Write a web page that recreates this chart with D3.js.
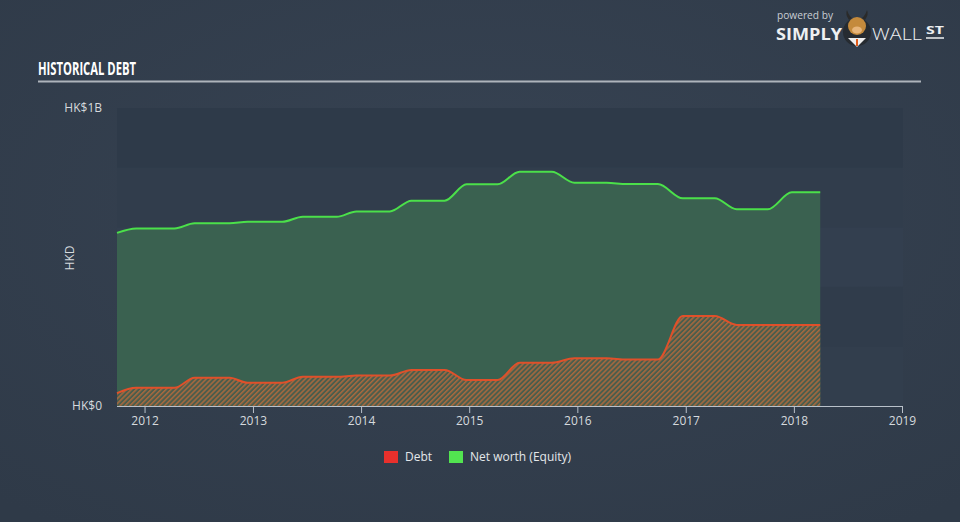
<!DOCTYPE html>
<html>
<head>
<meta charset="utf-8">
<script src="https://cdn.jsdelivr.net/npm/d3@7"></script>
<style>
  html, body { margin: 0; padding: 0; background: #333f4e; }
  svg { display: block; }
  text { font-family: "Open Sans", "DejaVu Sans", sans-serif; }
</style>
</head>
<body>
<svg id="chart" width="960" height="522"></svg>
<script>
// ---- data (HK$ millions) ----
const dates = [
  "2011-09-30","2011-12-04","2012-04-11","2012-06-18","2012-10-14","2012-12-14",
  "2013-04-10","2013-06-18","2013-10-11","2013-12-16","2014-04-08","2014-06-20",
  "2014-10-10","2014-12-23","2015-04-07","2015-06-20","2015-10-07","2015-12-22",
  "2016-04-09","2016-06-16","2016-09-29","2016-12-22","2017-04-09","2017-06-22",
  "2017-10-05","2017-12-25","2018-03-31"
];
const equity = [
  581, 596, 596, 613, 613, 618,
  618, 635, 635, 653, 653, 689,
  689, 744, 744, 786, 786, 749,
  749, 745, 745, 697, 697, 660,
  660, 717, 717
];
const debt = [
  43, 61, 61, 95, 95, 78,
  78, 98, 98, 102, 102, 121,
  121, 87, 87, 145, 145, 160,
  160, 156, 156, 302, 302, 272,
  272, 272, 272
];
const yTickValues = [0, 1000];
const yTickLabels = ["HK$0", "HK$1B"];
const xTickYears = [2012, 2013, 2014, 2015, 2016, 2017, 2018, 2019];
const legendItems = [
  { name: "Debt", color: "#e8302c" },
  { name: "Net worth (Equity)", color: "#52e450" }
];

const W = 960, H = 522;
const svg = d3.select("#chart");
const parse = d3.timeParse("%Y-%m-%d");
const series = dates.map((d, i) => ({ date: parse(d), equity: equity[i], debt: debt[i] }));

// ---- background ----
const defs = svg.append("defs");
const bg = defs.append("radialGradient").attr("id", "bg").attr("cx", "50%").attr("cy", "40%").attr("r", "75%");
bg.append("stop").attr("offset", "0%").attr("stop-color", "#374353");
bg.append("stop").attr("offset", "100%").attr("stop-color", "#2f3a48");
svg.append("rect").attr("width", W).attr("height", H).attr("fill", "url(#bg)");

const hatch = defs.append("pattern").attr("id", "hatch").attr("patternUnits", "userSpaceOnUse")
  .attr("width", 3.5).attr("height", 3.5).attr("patternTransform", "rotate(45)");
hatch.append("rect").attr("width", 3.5).attr("height", 3.5).attr("fill", "#4b5d4c");
hatch.append("rect").attr("width", 1.5).attr("height", 3.5).attr("fill", "#a8693f");

// ---- scales ----
const x = d3.scaleTime()
  .domain([parse("2011-09-30"), new Date(2019, 0, 1)])
  .range([117, 902]);
const y = d3.scaleLinear().domain([0, 1000]).range([406, 108]);

// ---- plot bands ----
const bandEdges = d3.range(0, 1001, 200);
const bandColors = ["#323e4d", "#303c4b", "#333f4f", "#313d4c", "#2e3a49"];
svg.append("g").selectAll("rect").data(bandEdges.slice(0, -1)).join("rect")
  .attr("x", 117).attr("width", 903 - 117)
  .attr("y", d => y(d + 200)).attr("height", d => y(d) - y(d + 200))
  .attr("fill", (d, i) => bandColors[i]);

// ---- areas & lines ----
const curve = d3.curveMonotoneX;
svg.append("path").datum(series)
  .attr("fill", "#3a6150")
  .attr("d", d3.area().curve(curve).x(d => x(d.date)).y0(y(0)).y1(d => y(d.equity)));
svg.append("path").datum(series)
  .attr("fill", "url(#hatch)")
  .attr("d", d3.area().curve(curve).x(d => x(d.date)).y0(y(0)).y1(d => y(d.debt)));
svg.append("path").datum(series)
  .attr("fill", "none").attr("stroke", "#4be04a").attr("stroke-width", 2)
  .attr("d", d3.line().curve(curve).x(d => x(d.date)).y(d => y(d.equity)));
svg.append("path").datum(series)
  .attr("fill", "none").attr("stroke", "#e0502a").attr("stroke-width", 2)
  .attr("d", d3.line().curve(curve).x(d => x(d.date)).y(d => y(d.debt)));

// ---- x axis ----
const xAxis = d3.axisBottom(x)
  .tickValues(xTickYears.map(yr => new Date(yr, 0, 1)))
  .tickFormat(d3.timeFormat("%Y"))
  .tickSize(7).tickPadding(3).tickSizeOuter(0);
const gx = svg.append("g").attr("transform", "translate(0,406)").call(xAxis);
gx.select(".domain").attr("stroke", "#b9c1ca").attr("stroke-width", 1.2).attr("d", "M117,0.5H903");
gx.selectAll(".tick line").attr("stroke", "#b9c1ca");
gx.selectAll(".tick text").attr("fill", "#d6dade").attr("font-size", 12)
  .attr("font-family", "'Open Sans', sans-serif");

// ---- y labels ----
svg.append("g").selectAll("text").data(yTickValues).join("text")
  .attr("x", 102).attr("y", d => y(d)).attr("dy", "0.35em")
  .attr("text-anchor", "end").attr("fill", "#d6dade").attr("font-size", 12)
  .text((d, i) => yTickLabels[i]);
svg.append("text").attr("transform", "translate(74,258) rotate(-90)")
  .attr("text-anchor", "middle").attr("fill", "#d6dade").attr("font-size", 12).text("HKD");

// ---- title ----
svg.append("text").attr("x", 38).attr("y", 75)
  .attr("fill", "#ffffff").attr("font-size", 18).attr("font-weight", "bold")
  .attr("font-family", "'Liberation Sans Narrow', 'Roboto', sans-serif")
  .attr("textLength", 98).attr("lengthAdjust", "spacingAndGlyphs")
  .text("HISTORICAL DEBT");
svg.append("line").attr("x1", 38).attr("x2", 921).attr("y1", 81.5).attr("y2", 81.5)
  .attr("stroke", "#aeb4bb").attr("stroke-width", 2);

// ---- legend ----
const lg = svg.append("g").attr("transform", "translate(384,451)");
const offsets = [0, 65];
legendItems.forEach((it, i) => {
  const g = lg.append("g").attr("transform", `translate(${offsets[i]},0)`);
  g.append("rect").attr("width", 14).attr("height", 12).attr("fill", it.color);
  g.append("text").attr("x", 21).attr("y", 6).attr("dy", "0.35em")
    .attr("fill", "#e4e7ea").attr("font-size", 12).text(it.name);
});

// ---- logo ----
const logo = svg.append("g");
logo.append("text").attr("x", 777).attr("y", 19).attr("fill", "#c9ced4").attr("font-size", 10)
  .attr("textLength", 56).attr("lengthAdjust", "spacingAndGlyphs").text("powered by");
logo.append("text").attr("x", 776).attr("y", 40).attr("fill", "#eef0f2").attr("font-size", 15.5)
  .attr("font-weight", "bold").attr("textLength", 66).attr("lengthAdjust", "spacingAndGlyphs").text("SIMPLY");
logo.append("circle").attr("cx", 857).attr("cy", 32).attr("r", 14).attr("fill", "#262b31");
logo.append("path").attr("d", "M848,38 L857,47 L866,38 Z").attr("fill", "#eeeeee");
logo.append("path").attr("d", "M856,39 L858,39 L858,46 L856,46 Z").attr("fill", "#e05a1a");
logo.append("ellipse").attr("cx", 857).attr("cy", 26).attr("rx", 9).attr("ry", 9).attr("fill", "#c48a3c");
logo.append("ellipse").attr("cx", 857).attr("cy", 30).attr("rx", 5).attr("ry", 3.5).attr("fill", "#e7b57a");
logo.append("path").attr("d", "M849,20 Q845,14 847,10 Q849,16 852,18 Z").attr("fill", "#2a2a2a");
logo.append("path").attr("d", "M865,20 Q869,14 867,10 Q865,16 862,18 Z").attr("fill", "#2a2a2a");
logo.append("text").attr("x", 872).attr("y", 40).attr("fill", "#eef0f2").attr("font-size", 15.5)
  .attr("font-weight", "300").attr("textLength", 50).attr("lengthAdjust", "spacingAndGlyphs").text("WALL");
logo.append("text").attr("x", 926).attr("y", 34).attr("fill", "#eef0f2").attr("font-size", 10)
  .attr("font-weight", "bold").attr("textLength", 18).attr("lengthAdjust", "spacingAndGlyphs").text("ST");
logo.append("line").attr("x1", 926).attr("x2", 944).attr("y1", 38).attr("y2", 38)
  .attr("stroke", "#eef0f2").attr("stroke-width", 1.5);
</script>
</body>
</html>
